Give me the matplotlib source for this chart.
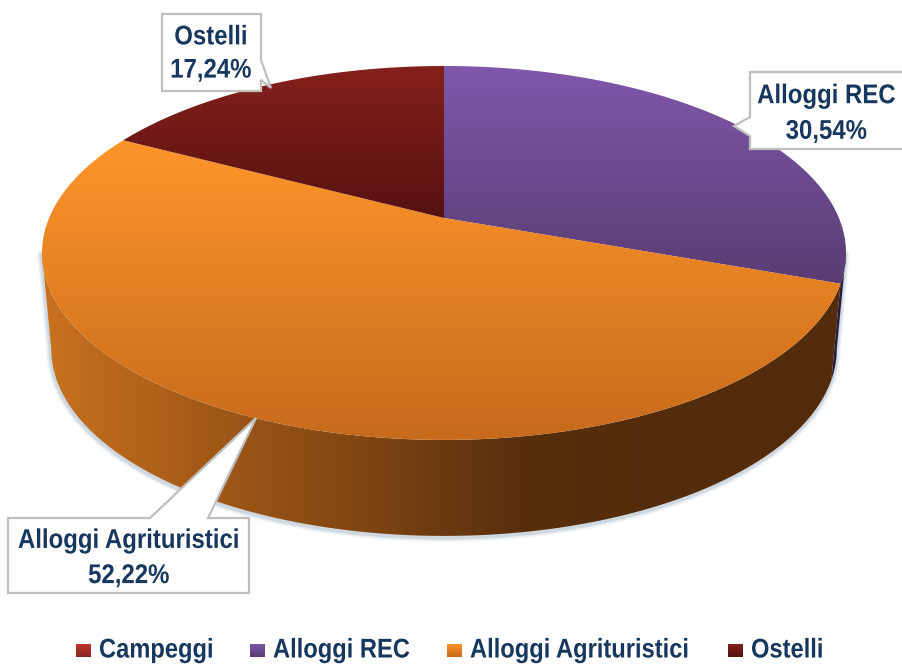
import numpy as np
import matplotlib
matplotlib.use("Agg")
import matplotlib.pyplot as plt
from matplotlib.colors import LinearSegmentedColormap
from matplotlib.patches import Polygon
from matplotlib.patheffects import AbstractPathEffect
from matplotlib.transforms import Affine2D

# ---- data ----
categories = ["Campeggi", "Alloggi REC", "Alloggi Agrituristici", "Ostelli"]
shares = [0.0, 30.54, 52.22, 17.24]
share_labels = ["", "30,54%", "52,22%", "17,24%"]
top_grad = [("#c0392f", "#8a2320"), ("#7f58ab", "#5a3c72"),
            ("#fe962a", "#c76a1b"), ("#85211c", "#561110")]
wall_grad = [["#7a1c1a", "#501010"], ["#2c2050", "#241a3a"],
             ["#c87220", "#a35a17", "#7f4513", "#582f0d", "#532c0b", "#532c0b"],
             ["#501010", "#501010"]]
navy = "#17375e"
border = "#bfbfbf"

plt.rcParams["font.family"] = ["Liberation Sans", "DejaVu Sans"]


class Condense(AbstractPathEffect):
    """Narrow the glyphs horizontally, the reference uses a condensed look."""

    def __init__(self, sx, center=False):
        super().__init__()
        self.sx, self.center = sx, center

    def draw_path(self, renderer, gc, tpath, affine, rgbFace=None):
        t = Affine2D().scale(self.sx, 1)
        if self.center and len(tpath.vertices):
            t = t.translate((1 - self.sx) * tpath.vertices[:, 0].max() / 2, 0)
        renderer.draw_path(gc, tpath, t + affine, rgbFace)


fig = plt.figure(figsize=(9.03, 6.66), dpi=100)
ax = fig.add_axes([0, 0, 1, 1])
ax.set_xlim(0, 903)
ax.set_ylim(666, 0)
ax.axis("off")

# perspective view of the pie disc
CX, APEX_Y, A, B, K, DEPTH, LOW = 444.0, 218.0, 394.9, -139.65, 0.187, 96.0, 0.977


def project(theta):
    """theta: clockwise from 12 o'clock, radians"""
    u, v = np.sin(theta), np.cos(theta)
    w = 1 + K * v
    return CX + A * u / w, (APEX_Y + B * v) / w


def lower(x, y):
    return CX + (x - CX) * LOW, y + DEPTH


def grad_fill(verts, colors, extent, vertical=True, z=2):
    cmap = LinearSegmentedColormap.from_list("g", colors)
    g = np.linspace(0, 1, 256)
    g = g[:, None] if vertical else g[None, :]
    im = ax.imshow(g, cmap=cmap, extent=extent, aspect="auto", zorder=z,
                   interpolation="bilinear", vmin=0, vmax=1)
    patch = Polygon(verts, closed=True, transform=ax.transData, fc="none", ec="none")
    ax.add_patch(patch)
    im.set_clip_path(patch)


fractions = np.array(shares) / sum(shares)
edges = np.concatenate([[0], np.cumsum(fractions)]) * 2 * np.pi

# front part of the rim: between its rightmost and leftmost points
grid = np.linspace(0, 2 * np.pi, 2000)
gx, _ = project(grid)
th_right, th_left = grid[np.argmax(gx)], grid[np.argmin(gx)]

# soft shadow below the wall
th = np.linspace(th_right, th_left, 400)
x, y = project(th)
lx, ly = lower(x, y)
sx = np.r_[x[0], lx, x[-1]]
sy = np.r_[y[0], ly, y[-1]]
for lw, al in [(7, 0.05), (5, 0.09), (3, 0.18)]:
    ax.plot(sx - 0.5, sy + 1.5, color="#5f7a96", lw=lw, alpha=al, zorder=1, solid_capstyle="round")

# walls
for i in range(len(shares)):
    lo, hi = max(edges[i], th_right), min(edges[i + 1], th_left)
    if fractions[i] == 0 or hi <= lo:
        continue
    th = np.linspace(lo, hi, 300)
    x, y = project(th)
    lx, ly = lower(x, y)
    verts = np.r_[np.c_[x, y], np.c_[lx, ly][::-1]]
    grad_fill(verts, wall_grad[i], (42, 846, 666, 0) if i != 1 else (800, 850, 666, 0),
              vertical=False, z=2)

# top faces
for i in range(len(shares)):
    if fractions[i] == 0:
        continue
    th = np.linspace(edges[i], edges[i + 1], 300)
    x, y = project(th)
    verts = np.r_[[[CX, APEX_Y]], np.c_[x, y]]
    grad_fill(verts, top_grad[i], (0, 903, max(y.max(), APEX_Y), min(y.min(), APEX_Y)), z=3)

# callouts
callouts = {
    1: ([(750, 72), (905, 72), (905, 149), (750, 149), (750, 136), (734, 126), (750, 117)], (826.5, 114), 1.48),
    2: ([(8, 518), (150, 518), (256, 418), (208, 518), (249, 518), (249, 593), (8, 593)], (129, 558.5), 1.46),
    3: ([(162, 14), (261, 14), (261, 60), (271, 88), (261, 80), (261, 91), (162, 91)], (211, 54), 1.36),
}
for i, (pts, (tx, ty), ls) in callouts.items():
    ax.add_patch(Polygon(pts, closed=True, fc="white", ec=border, lw=1.6, zorder=5))
    ax.text(tx, ty, f"{categories[i]}\n{share_labels[i]}", ha="center", va="center",
            fontsize=19.5, fontweight="bold", color=navy, linespacing=ls, zorder=6,
            path_effects=[Condense(0.885, center=True)])

# legend
swatch_x = [76, 250, 447, 728]
LEG_Y = 650.5
for i, name in enumerate(categories):
    x0 = swatch_x[i]
    verts = [(x0, LEG_Y - 7), (x0 + 15, LEG_Y - 7), (x0 + 15, LEG_Y + 7), (x0, LEG_Y + 7)]
    grad_fill(verts, top_grad[i], (x0, x0 + 15, LEG_Y + 7, LEG_Y - 7), z=4)
    ax.text(x0 + 23, LEG_Y, name, ha="left", va="center", fontsize=19.5, fontweight="bold",
            color=navy, path_effects=[Condense(0.875)], zorder=6)

ax.set_xlim(0, 903)
ax.set_ylim(666, 0)

fig.savefig("out.png", dpi=100, facecolor="white")
